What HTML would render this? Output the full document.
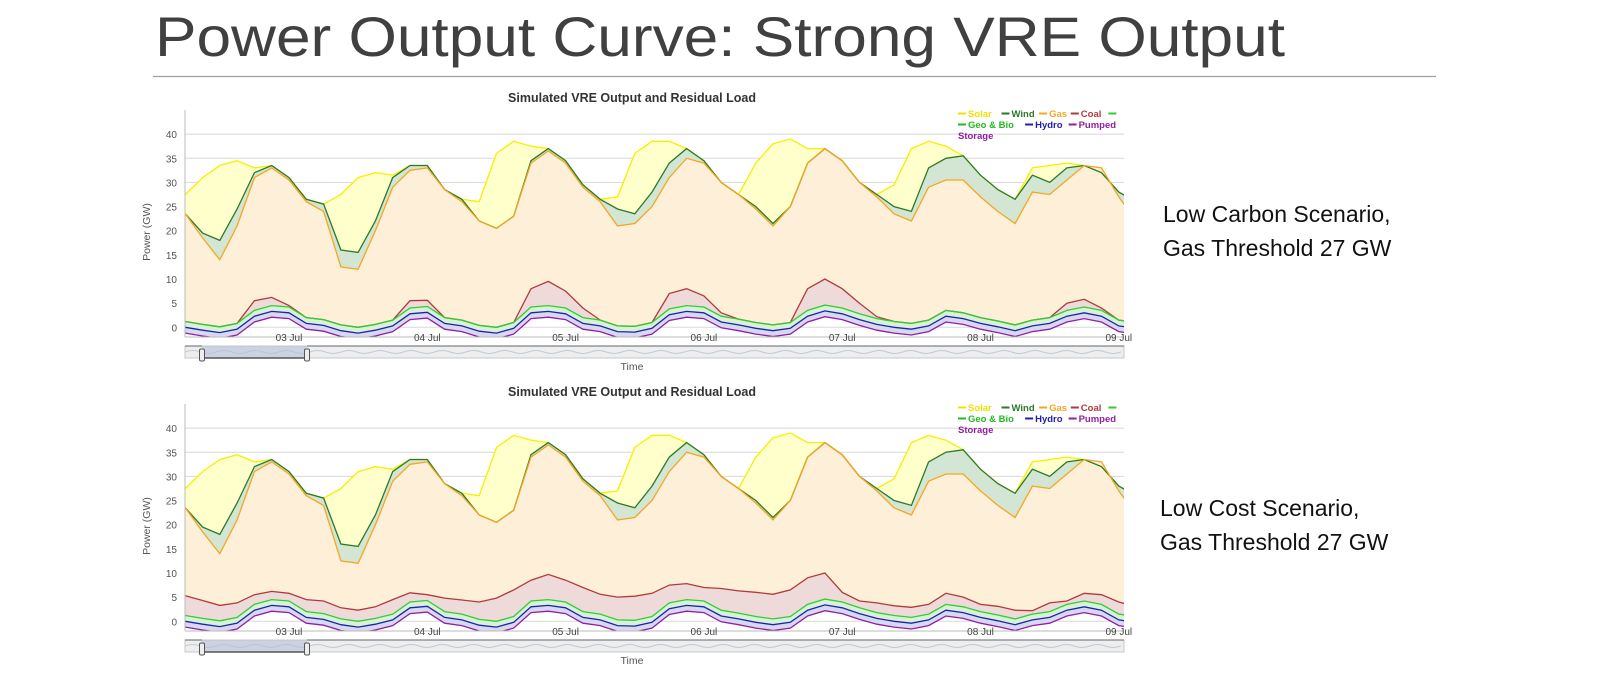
<!DOCTYPE html>
<html><head><meta charset="utf-8"><style>
body{margin:0;width:1600px;height:680px;background:#fff;overflow:hidden;font-family:"Liberation Sans",sans-serif}
svg{position:absolute;left:0;top:0}
</style></head><body>
<svg id="root" width="1600" height="680">
<text x="155" y="56" font-size="56" fill="#404040" textLength="1130" lengthAdjust="spacingAndGlyphs">Power Output Curve: Strong VRE Output</text>
<line x1="153" y1="76.5" x2="1436" y2="76.5" stroke="#a0a0a0" stroke-width="1.2"/>
<text x="1163" y="222" font-size="23" fill="#111">Low Carbon Scenario,</text>
<text x="1163" y="256" font-size="23" fill="#111">Gas Threshold 27 GW</text>
<text x="1160" y="516" font-size="23" fill="#111">Low Cost Scenario,</text>
<text x="1160" y="550" font-size="23" fill="#111">Gas Threshold 27 GW</text>
</svg>
<script>
const hours=[];for(let h=-18;h<=147;h+=3)hours.push(h);
const solar=[27.5,31,33.5,34.5,33,33.5,31,26.5,25.5,27.5,31,32,31.5,33.5,33.5,28.5,26.5,26,36,38.5,37.5,37,34.5,29.5,26.5,27,36,38.5,38.5,37,34.5,30,27.5,34,38,39,37,37,34.5,30,27.5,29.5,37,38.5,37.5,35.5,31.5,28.5,26.5,33,33.5,34,33.5,32,28,26];
const wind=[23.5,19.5,18,24.5,32,33.5,31,26.5,25.5,16,15.5,22,31,33.5,33.5,28.5,26.5,22,20.5,23,34.5,37,34.5,29.5,26.5,24.5,23.5,28,34,37,34.5,30,27.5,25,21.5,25,34,37,34.5,30,27.5,25,24,33,35,35.5,31.5,28.5,26.5,31.5,30,33,33.5,32,28,26];
const gas=[23.5,18.5,14,21,31,33,30.5,26,24,12.5,12,20,29,32.5,33,28.5,26,22,20.5,23,34,36.5,34,29,26,21,21.5,25,31,35,34,30,27.5,24.5,21,25,34,37,34.5,30,27,23.5,22,29,30.5,30.5,27,24,21.5,28,27.5,30.5,33.5,33,27,22];
const coalTop=[1.2,0.6,0.1,0.8,5.5,6.2,4.5,2,1.6,0.5,0,0.6,1.5,5.5,5.6,2,1.5,0.4,0,1,8,9.5,7.5,4,1.5,0.3,0.2,1,7,8,6.5,3,1.7,1,0.5,1,8,10,8,5,2.2,1.2,0.8,1.5,3.5,3,2,1.3,0.5,1.5,2,5,5.8,4,1.5,1];
const coalBottom=[5.3,4.3,3.3,3.8,5.5,6.2,5.8,4.5,4.2,2.8,2.3,3,4.5,5.9,5.5,4.8,4.4,4,4.8,6.5,8.5,9.7,8.5,7,5.6,5,5.2,5.8,7.5,7.8,7,6.8,6.3,6,5.6,6.5,9,10,6,4.2,3.8,3.2,2.9,3.5,5.8,5,3.5,3.1,2.3,2.2,3.8,4.2,5.8,5.5,4,3];
const geo=[1.2,0.6,0.1,0.8,3.5,4.5,4.2,2,1.6,0.5,0,0.6,1.5,4,4.3,2,1.5,0.4,0,1,4.2,4.5,4,2,1.5,0.3,0.2,1,3.8,4.5,4.2,2.3,1.7,1,0.5,1,3.5,4.6,4,2.8,1.8,1.2,0.8,1.5,3.5,3,2,1.3,0.5,1.5,2,3.5,4.2,3.5,1.5,1];
const hydro=[0,-0.6,-1.1,-0.4,2.3,3.3,3,0.8,0.4,-0.7,-1.2,-0.6,0.3,2.8,3.1,0.8,0.3,-0.8,-1.2,-0.2,3,3.3,2.8,0.8,0.3,-0.9,-1,-0.2,2.6,3.3,3,1.1,0.5,-0.2,-0.7,-0.2,2.3,3.4,2.8,1.6,0.6,0,-0.4,0.3,2.3,1.8,0.8,0.1,-0.7,0.3,0.8,2.3,3,2.3,0.3,-0.2];
const storage=[-1.2,-1.8,-2.3,-1.6,1.1,2.1,1.8,-0.4,-0.8,-1.9,-2.4,-1.8,-0.9,1.6,1.9,-0.4,-0.9,-2,-2.4,-1.4,1.8,2.1,1.6,-0.4,-0.9,-2.1,-2.2,-1.4,1.4,2.1,1.8,-0.1,-0.7,-1.4,-1.9,-1.4,1.1,2.2,1.6,0.4,-0.6,-1.2,-1.6,-0.9,1.1,0.6,-0.4,-1.1,-1.9,-0.9,-0.4,1.1,1.8,1.1,-0.9,-1.4];
const yTicks=[0,5,10,15,20,25,30,35,40];
const dayLabels=["03 Jul","04 Jul","05 Jul","06 Jul","07 Jul","08 Jul","09 Jul"];
const legendRows=[[["Solar","#f0e000"],["Wind","#2a7a2a"],["Gas","#f5a623"],["Coal","#b03a3a"],["","#33cc33"]],[["Geo & Bio","#22bb22"],["Hydro","#2020b0"],["Pumped","#9020a0"]],[["Storage","#9020a0"]]];

const NS="http://www.w3.org/2000/svg";
const root=document.getElementById('root');
function mk(tag,attrs,parent){const e=document.createElementNS(NS,tag);for(const k in attrs)e.setAttribute(k,attrs[k]);(parent||root).appendChild(e);return e;}
const X0=185,X1=1124;
function xs(h){return 289+h*138.3/24;}

function drawChart(idx,dy,coal){
  const g=mk('g',{});
  
  
  const ys=v=>327.3+dy-v*4.83;
  const top=110+dy,bot=337+dy;
  const cp=mk('clipPath',{id:'clip'+idx},g);mk('rect',{x:X0,y:top,width:X1-X0,height:bot-top},cp);
  const t=mk('text',{x:632,y:102+dy,'font-size':12.5,'font-weight':'bold','text-anchor':'middle',fill:'#333'},g);
  t.textContent='Simulated VRE Output and Residual Load';
  
  
  yTicks.forEach(v=>{
    const l=mk('line',{x1:X0,x2:X1,y1:ys(v),y2:ys(v),stroke:'#d8d8d8','stroke-width':1},g);
    
    
    const tt=mk('text',{x:177,y:ys(v)+4,'font-size':10,'text-anchor':'end',fill:'#555'},g);
    tt.textContent=v;
    
    
  });
  const yt=mk('text',{x:0,y:0,'font-size':10.5,'text-anchor':'middle',fill:'#555',transform:`translate(150,${232+dy}) rotate(-90)`},g);
  yt.textContent='Power (GW)';
  
  
  const layers=[[solar,wind,'#ffffcc','#f5f000'],[wind,gas,'#d3e6d3','#2a7a2a'],[gas,coal,'#fdefd8','#f5a623'],[coal,geo,'#efdada','#b03a3a'],[geo,hydro,'#d6f3d6','#33cc33'],[hydro,storage,'#d8d8f0','#2020b0'],[storage,null,'#e8d2ec','#9020a0']];
  const area=mk('g',{'clip-path':`url(#clip${idx})`},g);
  const n=hours.length;
  layers.forEach(([up,lo,fill,stroke],li)=>{
    let pu=[];for(let i=0;i<n;i++)pu.push(xs(hours[i]).toFixed(1)+','+ys(up[i]).toFixed(1));
    if(lo){
      let pl=[];for(let i=n-1;i>=0;i--)pl.push(xs(hours[i]).toFixed(1)+','+ys(lo[i]).toFixed(1));
      const p=mk('polygon',{points:pu.concat(pl).join(' '),fill:fill},area);
      
      
    }
  });
  layers.forEach(([up,lo,fill,stroke])=>{
    let pu=[];for(let i=0;i<n;i++)pu.push(xs(hours[i]).toFixed(1)+','+ys(up[i]).toFixed(1));
    const pl=mk('polyline',{points:pu.join(' '),fill:'none',stroke:stroke,'stroke-width':1.3},area);
    
    
  });
  const ax=mk('line',{x1:X0,x2:X0,y1:top,y2:bot,stroke:'#bbb'},g);
  
  
  const bx=mk('line',{x1:X0,x2:X1,y1:bot,y2:bot,stroke:'#bbb'},g);
  
  
  dayLabels.forEach((d,i)=>{
    const tt=mk('text',{x:xs(24*i),y:341+dy,'font-size':10,'text-anchor':'middle',fill:'#444'},g);
    tt.textContent=d;
    
    
  });
  // legend
  legendRows.forEach((row,ri)=>{
    let x=958;const y=117+dy+ri*11;
    row.forEach(([lab,col])=>{
      if(!(ri==2)){mk('line',{x1:x,x2:x+8,y1:y-3.5,y2:y-3.5,stroke:col,'stroke-width':2},g);x+=10;}
      if(lab){const tt=mk('text',{x:x,y:y,'font-size':9.5,'font-weight':'bold',fill:col},g);
      tt.textContent=lab;
      
      
      x+=lab.length*5.9+4;}
    });
  });
  // navigator
  const nav=mk('g',{},g);
  
  
  mk('rect',{x:X0,y:346+dy,width:X1-X0,height:12,fill:'#eceef0',stroke:'#c8c8c8'},nav);
  mk('path',{d:`M${X0} ${352+dy} `+Array.from({length:60},(_,i)=>`q${7.8} ${i%2?3:-3} ${15.6} 0`).join(' '),fill:'none',stroke:'#c4c8d0','stroke-width':1},nav);
  mk('rect',{x:202,y:346+dy,width:105,height:12,fill:'#b8c0d8','fill-opacity':0.6},nav);
  mk('line',{x1:202,x2:307,y1:358+dy,y2:358+dy,stroke:'#555','stroke-width':1.5},nav);
  mk('line',{x1:185,x2:202,y1:346+dy,y2:346+dy,stroke:'#666'},nav);
  mk('line',{x1:307,x2:X1,y1:346+dy,y2:346+dy,stroke:'#666'},nav);
  [202,307].forEach(hx=>{mk('rect',{x:hx-2.5,y:349+dy,width:5,height:12,rx:1.5,fill:'#eee',stroke:'#555'},nav);});
  const tl=mk('text',{x:632,y:370+dy,'font-size':10.5,'text-anchor':'middle',fill:'#555'},g);
  tl.textContent='Time';
  
  
}
drawChart(1,0,coalTop);
drawChart(2,294,coalBottom);
</script>
</body></html>
